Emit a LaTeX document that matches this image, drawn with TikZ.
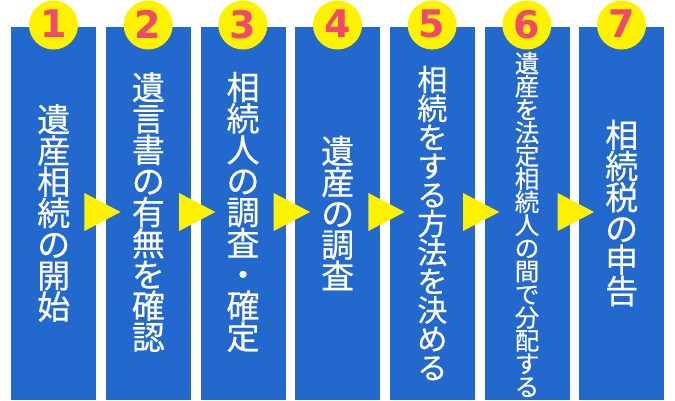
\documentclass[tikz,border=0pt]{standalone}
\usepackage{fontspec}
\newfontfamily\cjk[FakeBold=0.4]{Noto Sans CJK JP}
\newfontfamily\numfont{DejaVu Sans}
\usetikzlibrary{calc}
\definecolor{colblue}{RGB}{35,105,205}
\definecolor{numyellow}{RGB}{255,242,0}
\definecolor{numred}{RGB}{240,72,110}
\newcommand{\tightlines}{\lineskiplimit=-100pt\lineskip=0pt}
\begin{document}
\begin{tikzpicture}[x=1pt,y=-1pt,
  stepcol/.style={fill=colblue, draw=none, minimum width=85pt, minimum height=373pt, inner sep=0pt, anchor=north west},
  numcirc/.style={circle, fill=numyellow, minimum size=49pt, inner sep=0pt, text=numred, font=\numfont\bfseries\fontsize{38}{38}\selectfont},
  vtext/.style={text=white, align=center, inner sep=0pt, font=\cjk\fontsize{33}{31.2}\selectfont\tightlines},
  vtextm/.style={vtext, font=\cjk\fontsize{30}{28.8}\selectfont\tightlines},
  vtexts/.style={vtext, font=\cjk\fontsize{24.5}{23.1}\selectfont\tightlines},
  arrowtri/.style={fill=numyellow}]
\useasboundingbox (0,0) rectangle (675,400);
\foreach \i in {1,...,7}{
  \pgfmathsetmacro{\xx}{11+94.667*(\i-1)}
  \node[stepcol] (c\i) at (\xx,27) {};
  \node[numcirc] (n\i) at (\xx+42.5,25) {\raisebox{2pt}{\i}};
}
\foreach \i [evaluate=\i as \j using int(\i+1)] in {1,...,6}{
  \fill[arrowtri] ($(c\i.north east)+(-12,166)$) -- ($(c\j.north west)+(15,185)$) -- ($(c\i.north east)+(-12,204)$) -- cycle;
}
\node[vtext] (t1) at ($(c1.north)+(0,186)$) {遺\\産\\相\\続\\の\\開\\始};
\node[vtext] (t2) at ($(c2.north)+(0,185)$) {遺\\言\\書\\の\\有\\無\\を\\確\\認};
\node[vtext] (t3) at ($(c3.north)+(0,185)$) {相\\続\\人\\の\\調\\査\\・\\確\\定};
\node[vtext] (t4) at ($(c4.north)+(0,186)$) {遺\\産\\の\\調\\査};
\node[vtextm] (t5) at ($(c5.north)+(0,196)$) {相\\続\\を\\す\\る\\方\\法\\を\\決\\め\\る};
\node[vtexts] (t6) at ($(c6.north)+(0,197.5)$) {遺\\産\\を\\法\\定\\相\\続\\人\\の\\間\\で\\分\\配\\す\\る};
\node[vtext] (t7) at ($(c7.north)+(0,186)$) {相\\続\\税\\の\\申\\告};
\end{tikzpicture}
\end{document}
